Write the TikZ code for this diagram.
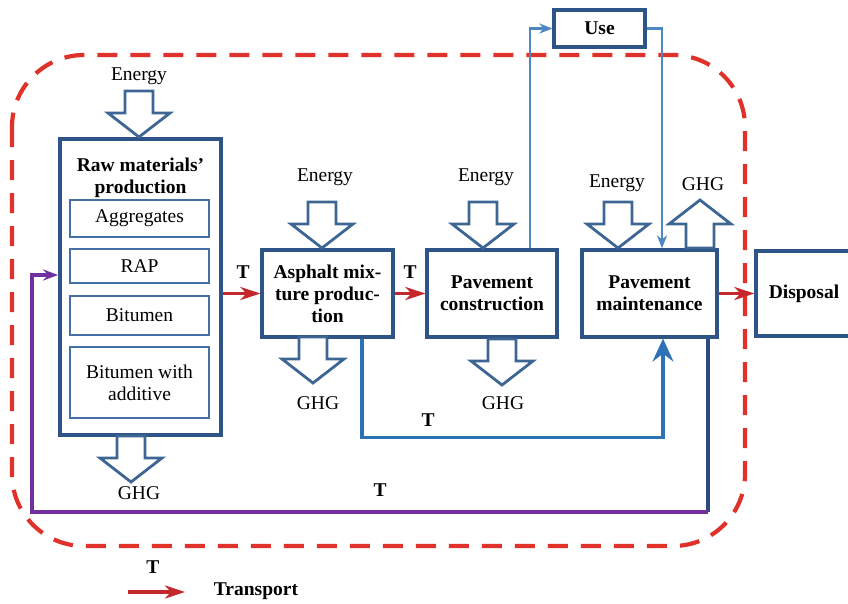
\documentclass[tikz,border=0pt]{standalone}
\usepackage{fontspec}
\setmainfont{Liberation Serif}
\usetikzlibrary{arrows.meta,calc}
\definecolor{dashred}{HTML}{E0322B}
\definecolor{tred}{HTML}{C4282C}
\definecolor{boxblue}{HTML}{2F5487}
\definecolor{subblue}{HTML}{4470A6}
\definecolor{hblue}{HTML}{3D6694}
\definecolor{ublue}{HTML}{4F86C6}
\definecolor{tblue}{HTML}{2E72B6}
\definecolor{navy}{HTML}{2C4A7E}
\definecolor{tpurple}{HTML}{7030A0}
\newcommand{\kfs}{\fontsize{19.5}{22}\selectfont}
\tikzset{
  mainbox/.style={draw=boxblue,line width=3.2pt,fill=white,font=\kfs\bfseries,align=center},
  subbox/.style={draw=subblue,line width=2pt,font=\kfs,align=center,minimum width=139},
  harrow/.style={draw=hblue,line width=2.8pt,fill=white,line join=miter},
  plain/.style={font=\kfs,inner sep=1pt},
  tlabel/.style={font=\kfs\bfseries,inner sep=1pt},
  tarrow/.style={tred,line width=3.4pt,-{Stealth[length=20pt,width=13pt,inset=6pt]}},
  uline/.style={ublue,line width=2.6pt,-{Stealth[length=13pt,width=10pt,inset=4pt]}},
}
\begin{document}
\begin{tikzpicture}[x=1pt,y=-1pt]
\pgfmathsetmacro{\ksh}{14}
\pgfmathsetmacro{\khd}{31}
\pgfmathsetmacro{\klen}{46}
\pgfmathsetmacro{\kneck}{24}
\useasboundingbox (0,0) rectangle (848,603);
% system boundary
\draw[dashred,line width=4.2pt,dash pattern=on 20pt off 13pt,rounded corners=72pt] (12,55) rectangle (745,546);
% boxes
\node[mainbox,line width=3.8pt,minimum width=161,minimum height=296] (raw) at (140.5,287) {};
\node[font=\kfs\bfseries,align=center] (rawt) at (140.5,178) {Raw materials'\\production};
\node[subbox,minimum height=37] (agg) at (139.5,218.5) {Aggregates};
\node[subbox,minimum height=34] (rap) at (139.5,266) {RAP};
\node[subbox,minimum height=39] (bit) at (139.5,315.5) {Bitumen};
\node[subbox,minimum height=71] (bwa) at (139.5,382.5) {Bitumen with\\additive};
\node[mainbox,minimum width=131,minimum height=87] (asp) at (327.5,293.5) {Asphalt mix-\\ture produc-\\tion};
\node[mainbox,minimum width=130,minimum height=87] (con) at (492,293.5) {Pavement\\construction};
\node[mainbox,minimum width=135,minimum height=87] (mnt) at (649.5,293.5) {Pavement\\maintenance};
\node[mainbox,minimum width=96,minimum height=85] (dsp) at (804,293.5) {Disposal};
\node[mainbox,minimum width=91,minimum height=37] (use) at (599.5,28.5) {Use};
% energy in / GHG out
\foreach \ex/\ey in {139/137,322/248,483/248,618/248,131/482,313/383,502/385}{
  \draw[harrow] (\ex,\ey) ++(-\ksh,-\klen) -- ++(2*\ksh,0) -- ++(0,\klen-\kneck) -- ++(\khd-\ksh,0)
    -- ++(-\khd,\kneck) -- ++(-\khd,-\kneck) -- ++(\khd-\ksh,0) -- cycle;}
\draw[harrow] (700,200) ++(-\ksh,\klen+2) -- ++(2*\ksh,0) -- ++(0,-\klen-2+\kneck) -- ++(\khd-\ksh,0)
  -- ++(-\khd,-\kneck) -- ++(-\khd,\kneck) -- ++(\khd-\ksh,0) -- cycle;
\foreach \lx/\ly/\lb in {139/76/Energy,325/177/Energy,486/177/Energy,617/183/Energy,139/493/GHG,318/403/GHG,503/403/GHG,703/184/GHG}{
  \node[plain] (l\lx) at (\lx,\ly) {\lb};}
% transport
\draw[tarrow] (raw.east |- asp.west) -- (asp.west);
\draw[tarrow] (asp.east) -- (con.west);
\draw[tarrow] (mnt.east) -- (dsp.west);
\node[tlabel] (t1) at (243,272) {T};
\node[tlabel] (t2) at (410,272) {T};
% use phase
\draw[uline] ($(con.north)+(38,0)$) |- (use.west);
\draw[uline] (use.east) -| ($(mnt.north)+(12.5,0)$);
% transport to maintenance
\draw[tblue,line width=3.2pt,-{Stealth[length=23pt,width=21pt,inset=8pt]}] ($(asp.south)+(34.5,0)$) -- ++(0,99) -| ($(mnt.south)+(13.5,0)$);
\node[tlabel] (t3) at (428,420) {T};
% recycling back to raw materials
\coordinate (rc) at (708,512);
\coordinate (rl) at (32,512);
\draw[navy,line width=3.2pt] (mnt.south -| rc) -- (rc);
\draw[tpurple,line width=3.4pt,-{Stealth[length=15pt,width=11pt,inset=5pt]}] (rc) -- (rl) |- ($(raw.west)+(0,-12)$);
\node[tlabel] (t4) at (380,490) {T};
% legend
\node[tlabel] (lt) at (153,567) {T};
\coordinate (la) at (128,592);
\coordinate (lb) at (185,592);
\draw[tarrow] (la) -- (lb);
\node[tlabel] (lg) at (256,591) {Transport};
\end{tikzpicture}
\end{document}
